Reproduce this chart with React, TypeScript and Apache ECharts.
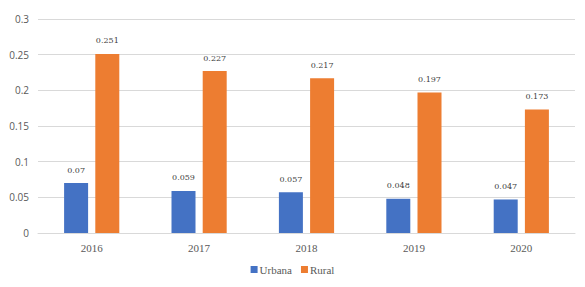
import React, { useEffect, useRef } from "react";
import * as echarts from "echarts";

const categories = ["2016", "2017", "2018", "2019", "2020"];
const urbana = [0.07, 0.059, 0.057, 0.048, 0.047];
const rural = [0.251, 0.227, 0.217, 0.197, 0.173];
const yTicks = [0, 0.05, 0.1, 0.15, 0.2, 0.25, 0.3];

export default function App() {
  const ref = useRef<HTMLDivElement>(null);
  useEffect(() => {
    const chart = echarts.init(ref.current!, null, { renderer: "svg" });
    const labelStyle = {
      show: true,
      position: "top" as const,
      distance: 9,
      fontFamily: "DejaVu Serif",
      fontSize: 8,
      color: "#404040",
      formatter: (p: any) => String(p.value),
    };
    chart.setOption({
      animation: false,
      grid: { left: 38, right: 10, top: 19, bottom: 54 },
      legend: {
        bottom: 7,
        left: "center",
        itemWidth: 7,
        itemHeight: 7,
        itemGap: 9,
        icon: "rect",
        textStyle: { fontFamily: "Liberation Serif", fontSize: 11, color: "#595959", padding: [0, 0, 0, -3] },
        data: ["Urbana", "Rural"],
      },
      xAxis: {
        type: "category",
        data: categories,
        axisLine: { lineStyle: { color: "#d9d9d9" } },
        axisTick: { show: false },
        axisLabel: { fontFamily: "Liberation Serif", fontSize: 11, color: "#595959", margin: 9 },
      },
      yAxis: {
        type: "value",
        min: 0,
        max: 0.3,
        interval: 0.05,
        axisLine: { show: false },
        axisTick: { show: false },
        splitLine: { lineStyle: { color: "#d9d9d9" } },
        axisLabel: {
          fontFamily: "Open Sans",
          fontSize: 10,
          color: "#595959",
          margin: 9,
          formatter: (v: number) => {
            const t = yTicks.find((x) => Math.abs(x - v) < 1e-9);
            return String(t !== undefined ? t : v);
          },
        },
      },
      series: [
        {
          name: "Urbana",
          type: "bar",
          data: urbana,
          barWidth: 24,
          barGap: "30%",
          itemStyle: { color: "#4472c4" },
          label: labelStyle,
        },
        {
          name: "Rural",
          type: "bar",
          data: rural,
          barWidth: 24,
          itemStyle: { color: "#ed7d31" },
          label: labelStyle,
        },
      ],
    });
    return () => chart.dispose();
  }, []);
  return <div ref={ref} style={{ width: 585, height: 287, position: "absolute", left: 0, top: 0 }} />;
}
